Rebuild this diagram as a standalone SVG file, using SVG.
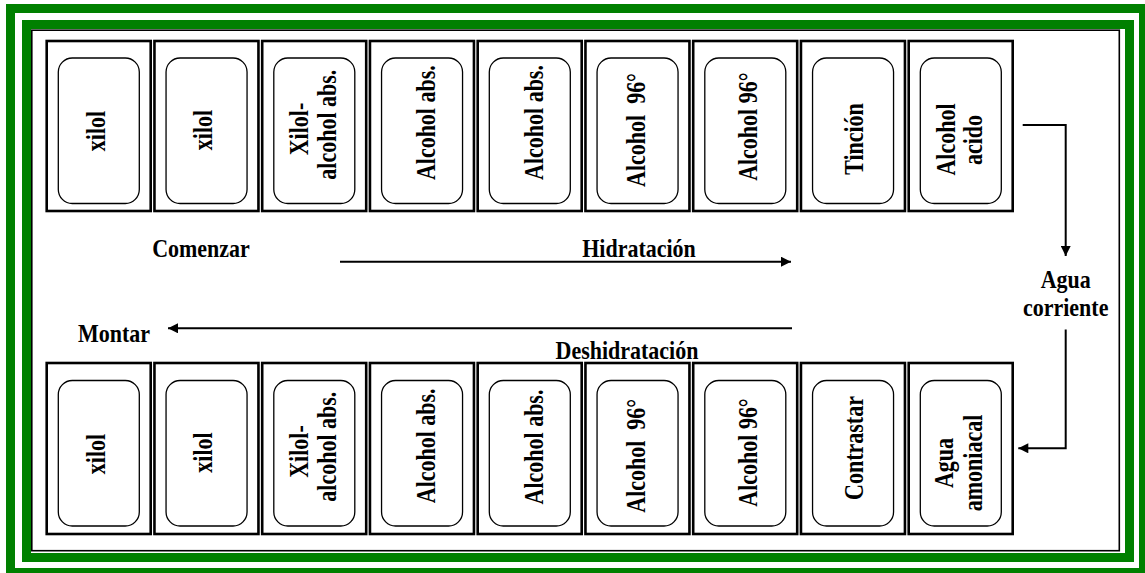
<svg xmlns="http://www.w3.org/2000/svg" width="1145" height="573" viewBox="0 0 1145 573">
<defs>
<style>
.frame{fill:none;stroke:#008000;stroke-width:9}
.content{fill:#fff;stroke:#000;stroke-width:1.6}
.box{fill:#fff;stroke:#000;stroke-width:2.6}
.inner{fill:#fff;stroke:#000;stroke-width:1.3}
.t{font-family:"Liberation Serif","Times New Roman",serif;font-weight:bold;font-size:22px;fill:#000;text-anchor:middle}
.c{fill:none;stroke:#000;stroke-width:2}
</style>
<marker id="ah" viewBox="0 0 10 10" refX="10" refY="5" markerWidth="11" markerHeight="10" markerUnits="userSpaceOnUse" orient="auto">
<path d="M0,0 L10,5 L0,10 z" fill="#000"/>
</marker>
</defs>
<rect width="1145" height="573" fill="#fff"/>
<rect class="frame" x="10.5" y="8.5" width="1133" height="564"/>
<rect class="frame" x="26.5" y="24.5" width="1103" height="533"/>
<rect class="content" x="31.8" y="30.2" width="1087.5" height="520.5"/>

<g id="top-row">
<g id="t1"><rect class="box" x="46.7" y="41" width="104" height="170"/><rect class="inner" x="58.3" y="58" width="81" height="145.5" rx="14"/><text class="t" transform="translate(105,131) rotate(-90) scale(1,1.2)">xilol</text></g>
<g id="t2"><rect class="box" x="154.45" y="41" width="104" height="170"/><rect class="inner" x="166.05" y="58" width="81" height="145.5" rx="14"/><text class="t" transform="translate(212,130) rotate(-90) scale(1,1.2)">xilol</text></g>
<g id="t3"><rect class="box" x="262.2" y="41" width="104" height="170"/><rect class="inner" x="273.8" y="58" width="81" height="145.5" rx="14"/><text class="t" transform="translate(308,129) rotate(-90) scale(1,1.2)">Xilol-</text><text class="t" transform="translate(335.5,124.7) rotate(-90) scale(1,1.2)">alcohol abs.</text></g>
<g id="t4"><rect class="box" x="369.95" y="41" width="104" height="170"/><rect class="inner" x="381.55" y="58" width="81" height="145.5" rx="14"/><text class="t" transform="translate(435,122.7) rotate(-90) scale(1,1.2)">Alcohol abs.</text></g>
<g id="t5"><rect class="box" x="477.7" y="41" width="104" height="170"/><rect class="inner" x="489.3" y="58" width="81" height="145.5" rx="14"/><text class="t" transform="translate(543.3,122.5) rotate(-90) scale(1,1.2)">Alcohol abs.</text></g>
<g id="t6"><rect class="box" x="585.45" y="41" width="104" height="170"/><rect class="inner" x="597.05" y="58" width="81" height="145.5" rx="14"/><text class="t" transform="translate(645,130) rotate(-90) scale(1,1.2)">Alcohol&#160; 96°</text></g>
<g id="t7"><rect class="box" x="693.2" y="41" width="104" height="170"/><rect class="inner" x="704.8" y="58" width="81" height="145.5" rx="14"/><text class="t" transform="translate(756.7,126.7) rotate(-90) scale(1,1.2)">Alcohol 96°</text></g>
<g id="t8"><rect class="box" x="800.95" y="41" width="104" height="170"/><rect class="inner" x="812.55" y="58" width="81" height="145.5" rx="14"/><text class="t" transform="translate(863,139) rotate(-90) scale(1,1.2)">Tinción</text></g>
<g id="t9"><rect class="box" x="908.7" y="41" width="104" height="170"/><rect class="inner" x="920.3" y="58" width="81" height="145.5" rx="14"/><text class="t" transform="translate(955,139.5) rotate(-90) scale(1,1.2)">Alcohol</text><text class="t" transform="translate(981.7,140) rotate(-90) scale(1,1.2)">acido</text></g>
</g>

<g id="bottom-row">
<g id="b1"><rect class="box" x="46.7" y="363" width="104" height="171"/><rect class="inner" x="58.3" y="380.5" width="81" height="145.5" rx="14"/><text class="t" transform="translate(105,454) rotate(-90) scale(1,1.2)">xilol</text></g>
<g id="b2"><rect class="box" x="154.45" y="363" width="104" height="171"/><rect class="inner" x="166.05" y="380.5" width="81" height="145.5" rx="14"/><text class="t" transform="translate(212,452.5) rotate(-90) scale(1,1.2)">xilol</text></g>
<g id="b3"><rect class="box" x="262.2" y="363" width="104" height="171"/><rect class="inner" x="273.8" y="380.5" width="81" height="145.5" rx="14"/><text class="t" transform="translate(308,451.5) rotate(-90) scale(1,1.2)">Xilol-</text><text class="t" transform="translate(335.5,446.7) rotate(-90) scale(1,1.2)">alcohol abs.</text></g>
<g id="b4"><rect class="box" x="369.95" y="363" width="104" height="171"/><rect class="inner" x="381.55" y="380.5" width="81" height="145.5" rx="14"/><text class="t" transform="translate(435,445.8) rotate(-90) scale(1,1.2)">Alcohol abs.</text></g>
<g id="b5"><rect class="box" x="477.7" y="363" width="104" height="171"/><rect class="inner" x="489.3" y="380.5" width="81" height="145.5" rx="14"/><text class="t" transform="translate(543.3,447) rotate(-90) scale(1,1.2)">Alcohol abs.</text></g>
<g id="b6"><rect class="box" x="585.45" y="363" width="104" height="171"/><rect class="inner" x="597.05" y="380.5" width="81" height="145.5" rx="14"/><text class="t" transform="translate(645,455.8) rotate(-90) scale(1,1.2)">Alcohol&#160; 96°</text></g>
<g id="b7"><rect class="box" x="693.2" y="363" width="104" height="171"/><rect class="inner" x="704.8" y="380.5" width="81" height="145.5" rx="14"/><text class="t" transform="translate(756.7,452.5) rotate(-90) scale(1,1.2)">Alcohol 96°</text></g>
<g id="b8"><rect class="box" x="800.95" y="363" width="104" height="171"/><rect class="inner" x="812.55" y="380.5" width="81" height="145.5" rx="14"/><text class="t" transform="translate(863.3,448) rotate(-90) scale(1,1.2)">Contrastar</text></g>
<g id="b9"><rect class="box" x="908.7" y="363" width="104" height="171"/><rect class="inner" x="920.3" y="380.5" width="81" height="145.5" rx="14"/><text class="t" transform="translate(953,463) rotate(-90) scale(1,1.2)">Agua</text><text class="t" transform="translate(981.7,463) rotate(-90) scale(1,1.2)">amoniacal</text></g>
</g>

<g id="labels">
<text class="t" transform="translate(201,256.5) scale(1,1.1)">Comenzar</text>
<text class="t" transform="translate(639,256.5) scale(1,1.1)">Hidratación</text>
<text class="t" transform="translate(114,341.5) scale(1,1.1)">Montar</text>
<text class="t" transform="translate(627,359) scale(1,1.1)">Deshidratación</text>
<g id="agua"><text class="t" transform="translate(1065.7,288) scale(1,1.1)">Agua</text><text class="t" transform="translate(1065.7,316) scale(1,1.1)">corriente</text></g>
</g>

<g id="connectors">
<line class="c" x1="340" y1="261.7" x2="791" y2="261.7" marker-end="url(#ah)"/>
<line class="c" x1="792" y1="328.3" x2="168" y2="328.3" marker-end="url(#ah)"/>
<polyline class="c" points="1022.7,125 1065.7,125 1065.7,256" marker-end="url(#ah)"/>
<polyline class="c" points="1065.7,329.5 1065.7,448.3 1018.3,448.3" marker-end="url(#ah)"/>
</g>
</svg>
